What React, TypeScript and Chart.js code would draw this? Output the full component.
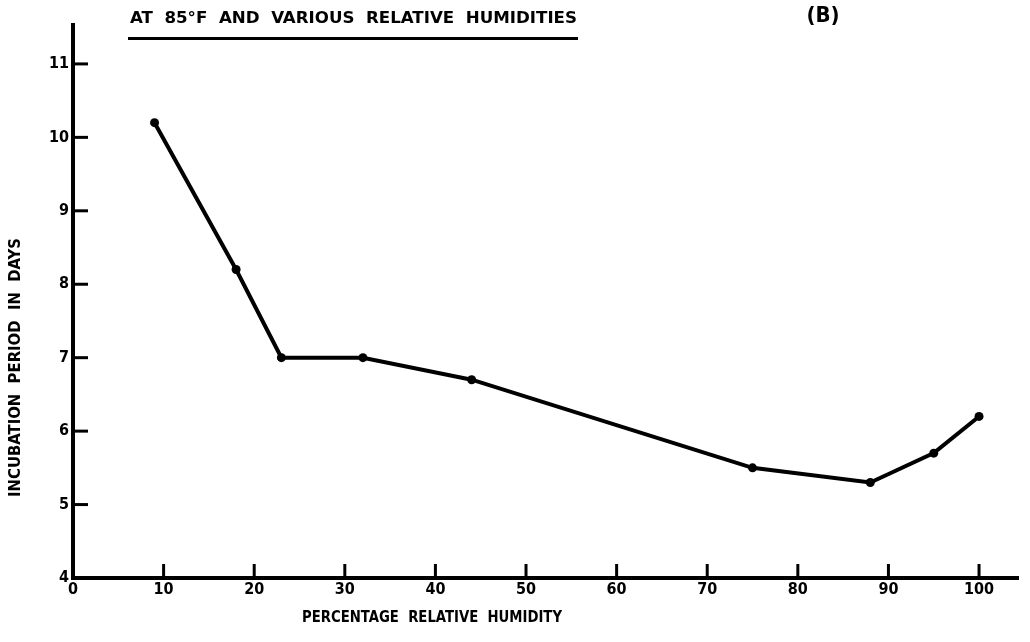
import React, { useEffect, useRef } from "react";
import { Chart, registerables } from "chart.js";

Chart.register(...registerables);

const humidity = [9, 18, 23, 32, 44, 75, 88, 95, 100];
const incubationDays = [10.2, 8.2, 7.0, 7.0, 6.7, 5.5, 5.3, 5.7, 6.2];
const xTickValues = [0, 10, 20, 30, 40, 50, 60, 70, 80, 90, 100];
const yTickValues = [4, 5, 6, 7, 8, 9, 10, 11];

const titleText = "AT  85°F  AND  VARIOUS  RELATIVE  HUMIDITIES";
const panelText = "(B)";
const xTitleText = "PERCENTAGE  RELATIVE  HUMIDITY";
const yTitleText = "INCUBATION  PERIOD  IN  DAYS";

const FONT = "'DejaVu Sans Condensed', 'Liberation Sans Narrow', 'Liberation Sans', sans-serif";

function fitText(ctx: CanvasRenderingContext2D, text: string, x: number, y: number, width: number) {
  const w = ctx.measureText(text).width;
  ctx.save();
  ctx.translate(x, y);
  ctx.scale(width / w, 1);
  ctx.textAlign = "left";
  ctx.fillText(text, 0, 0);
  ctx.restore();
}

const decorPlugin = {
  id: "decor",
  beforeDatasetsDraw(chart: any) {
    const { ctx, chartArea, scales } = chart;
    const xs = scales.x;
    const ys = scales.y;
    ctx.save();
    ctx.strokeStyle = "#000";
    ctx.lineWidth = 3;
    ctx.lineCap = "butt";
    xTickValues.forEach((v) => {
      if (v === 0) return;
      const px = xs.getPixelForValue(v);
      ctx.beginPath();
      ctx.moveTo(px, chartArea.bottom);
      ctx.lineTo(px, chartArea.bottom - 14);
      ctx.stroke();
    });
    yTickValues.forEach((v) => {
      if (v === 4) return;
      const py = ys.getPixelForValue(v);
      ctx.beginPath();
      ctx.moveTo(chartArea.left, py);
      ctx.lineTo(chartArea.left + 15, py);
      ctx.stroke();
    });
    ctx.restore();
  },
  afterDraw(chart: any) {
    const { ctx } = chart;
    ctx.save();
    ctx.fillStyle = "#000";
    ctx.textBaseline = "middle";
    // main title with underline
    ctx.font = `bold 15px ${FONT}`;
    fitText(ctx, titleText, 130, 19, 447);
    ctx.fillRect(128, 37, 450, 3);
    // panel label
    ctx.font = `bold 22px ${FONT}`;
    ctx.textAlign = "center";
    ctx.fillText(panelText, 823, 16);
    // x title
    ctx.font = `bold 15px ${FONT}`;
    fitText(ctx, xTitleText, 302, 618, 260);
    // y title
    ctx.save();
    ctx.translate(16, 497);
    ctx.rotate(-Math.PI / 2);
    fitText(ctx, yTitleText, 0, 0, 259);
    ctx.restore();
    ctx.restore();
  },
};

export default function App() {
  const canvasRef = useRef<HTMLCanvasElement>(null);

  useEffect(() => {
    const canvas = canvasRef.current;
    if (!canvas) return;
    const chart = new Chart(canvas, {
      type: "scatter",
      data: {
        datasets: [
          {
            data: humidity.map((h, i) => ({ x: h, y: incubationDays[i] })),
            showLine: true,
            borderColor: "#000",
            backgroundColor: "#000",
            borderWidth: 4,
            pointRadius: 4.5,
            pointBackgroundColor: "#000",
            pointBorderWidth: 0,
            tension: 0,
          },
        ],
      },
      options: {
        responsive: false,
        animation: false,
        layout: { padding: { top: 25, right: 12, left: 0, bottom: 0 } },
        plugins: {
          legend: { display: false },
          tooltip: { enabled: false },
          title: { display: false },
        },
        scales: {
          x: {
            type: "linear",
            min: 0,
            max: 104.3,
            afterBuildTicks: (s: any) => {
              s.ticks = xTickValues.map((v) => ({ value: v }));
            },
            afterFit: (s: any) => {
              s.height = 64;
            },
            grid: { display: false, drawTicks: false },
            border: { display: true, color: "#000", width: 4 },
            ticks: {
              color: "#000",
              padding: 2,
              maxRotation: 0,
              autoSkip: false,
              font: { family: FONT, size: 16, weight: "bold" },
            },
          },
          y: {
            type: "linear",
            min: 4,
            max: 11.53,
            afterBuildTicks: (s: any) => {
              s.ticks = yTickValues.map((v) => ({ value: v }));
            },
            afterFit: (s: any) => {
              s.width = 73;
            },
            grid: { display: false, drawTicks: false },
            border: { display: true, color: "#000", width: 4 },
            ticks: {
              color: "#000",
              padding: 4,
              autoSkip: false,
              font: { family: FONT, size: 16, weight: "bold" },
            },
          },
        },
      },
      plugins: [decorPlugin],
    });
    return () => chart.destroy();
  }, []);

  return (
    <div style={{ position: "absolute", left: 0, top: 0, width: 1030, height: 642, background: "#fff" }}>
      <canvas ref={canvasRef} width={1030} height={642} style={{ width: 1030, height: 642 }} />
    </div>
  );
}
